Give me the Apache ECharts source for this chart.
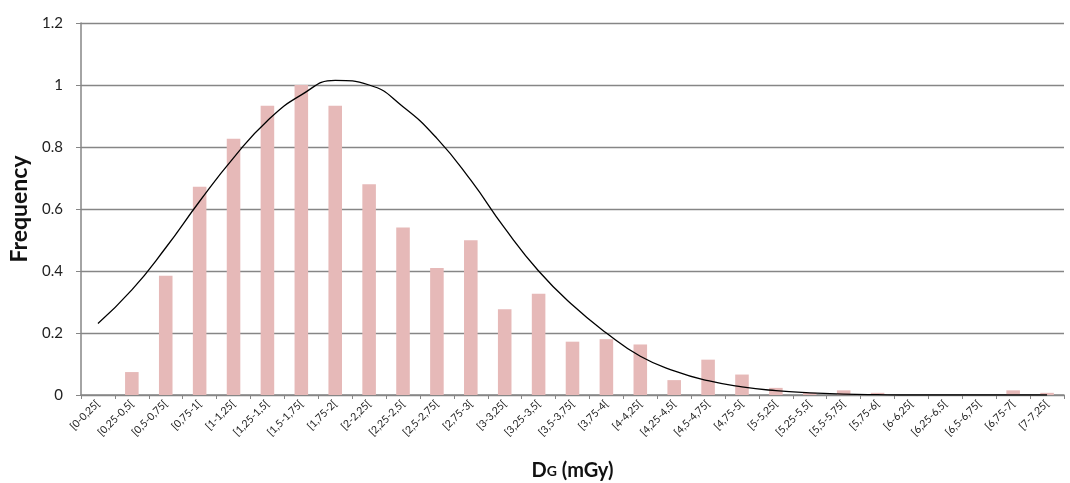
<!DOCTYPE html>
<html>
<head>
<meta charset="utf-8">
<script src="https://cdn.jsdelivr.net/npm/echarts@6/dist/echarts.min.js"></script>
<style>
html,body{margin:0;padding:0;background:#fff;}
#c{width:1070px;height:483px;}
</style>
</head>
<body>
<div id="c"></div>
<script>
var categories = ['[0-0,25[','[0,25-0,5[','[0,5-0,75[','[0,75-1[','[1-1,25[','[1,25-1,5[','[1,5-1,75[','[1,75-2[','[2-2,25[','[2,25-2,5[','[2,5-2,75[','[2,75-3[','[3-3,25[','[3,25-3,5[','[3,5-3,75[','[3,75-4[','[4-4,25[','[4,25-4,5[','[4,5-4,75[','[4,75-5[','[5-5,25[','[5,25-5,5[','[5,5-5,75[','[5,75-6[','[6-6,25[','[6,25-6,5[','[6,5-6,75[','[6,75-7[','[7-7,25['];
var frequency = [0,0.074,0.385,0.672,0.827,0.933,1.0,0.933,0.68,0.54,0.41,0.499,0.277,0.327,0.172,0.18,0.163,0.048,0.114,0.066,0.023,0.007,0.015,0.007,0,0,0,0.015,0.007];
var fitCurve = [0.231,0.339,0.475,0.625,0.765,0.885,0.968,1.015,1.0,0.93,0.828,0.693,0.538,0.40,0.29,0.20,0.125,0.078,0.046,0.026,0.014,0.007,0.003,0.001,0,0,0,0,0];
var yTicks = {min:0, max:1.2, interval:0.2};

var chart = echarts.init(document.getElementById('c'));
var font = 'Lato, "Open Sans", sans-serif';
chart.setOption({
  animation:false,
  backgroundColor:'#fff',
  grid:{left:81, right:6, top:23, bottom:88, containLabel:false, outerBoundsMode:'none'},
  xAxis:{
    type:'category',
    data:categories,
    boundaryGap:true,
    axisLine:{lineStyle:{color:'#868686', width:1.5}},
    axisTick:{show:true, length:4, lineStyle:{color:'#868686'}},
    axisLabel:{rotate:45, fontSize:10.5, color:'#222', fontFamily:font, interval:0, margin:7},
    name:'{a|D}{b|G}{a| (mGy)}',
    nameLocation:'middle',
    nameGap:66,
    nameTextStyle:{
      rich:{
        a:{fontSize:20, fontWeight:'bold', color:'#111', fontFamily:font},
        b:{fontSize:14, fontWeight:'bold', color:'#111', fontFamily:font}
      }
    }
  },
  yAxis:{
    type:'value',
    min:yTicks.min, max:yTicks.max, interval:yTicks.interval,
    axisLine:{show:true, lineStyle:{color:'#868686', width:1.5}},
    axisTick:{show:true, length:5, lineStyle:{color:'#868686'}},
    axisLabel:{fontSize:15, color:'#222', fontFamily:font, margin:18,
      formatter:function(v){return String(Math.round(v*10)/10);}},
    splitLine:{lineStyle:{color:'#868686', width:1.3}},
    name:'Frequency',
    nameLocation:'middle',
    nameGap:47,
    nameTextStyle:{fontSize:23, fontWeight:'bold', color:'#111', fontFamily:font}
  },
  series:[
    {
      type:'bar',
      data:frequency,
      barWidth:'40%',
      itemStyle:{color:'#e6b9b8'}
    },
    {
      type:'line',
      data:fitCurve,
      smooth:true,
      symbol:'none',
      lineStyle:{color:'#000', width:1.3},
      z:5
    }
  ]
});
</script>
</body>
</html>
